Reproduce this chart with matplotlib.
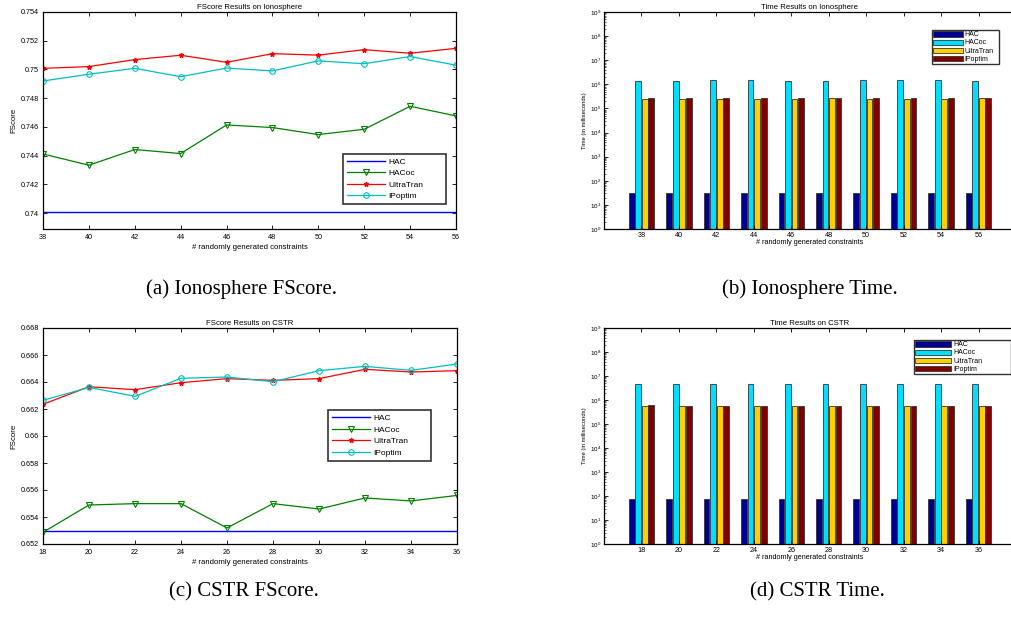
import matplotlib
matplotlib.use("Agg")
import matplotlib.pyplot as plt
import numpy as np
from matplotlib.ticker import LogLocator, FixedLocator, NullFormatter

plt.rcParams['font.family'] = ['Liberation Sans', 'DejaVu Sans']

# ---------------- data ----------------
series_names = ["HAC", "HACoc", "UltraTran", "IPoptim"]

iono_x = [38, 40, 42, 44, 46, 48, 50, 52, 54, 56]
iono_hac = [0.74005] * 10
iono_hacoc = [0.74412, 0.74334, 0.74443, 0.74415, 0.74614, 0.74596, 0.74547, 0.74584, 0.74744, 0.74677]
iono_ultra = [0.75008, 0.75020, 0.75069, 0.75099, 0.75050, 0.75110, 0.75100, 0.75138, 0.75113, 0.75147]
iono_ipopt = [0.74920, 0.74967, 0.75008, 0.74950, 0.75010, 0.74990, 0.75060, 0.75040, 0.75090, 0.75030]

cstr_x = [18, 20, 22, 24, 26, 28, 30, 32, 34, 36]
cstr_hac = [0.65300] * 10
cstr_hacoc = [0.65287, 0.65489, 0.65499, 0.65499, 0.65319, 0.65499, 0.65459, 0.65541, 0.65519, 0.65560]
cstr_ultra = [0.66235, 0.66365, 0.66343, 0.66395, 0.66425, 0.66412, 0.66425, 0.66494, 0.66474, 0.66484]
cstr_ipopt = [0.66264, 0.66360, 0.66294, 0.66427, 0.66437, 0.66402, 0.66484, 0.66516, 0.66486, 0.66533]

iono_t_hac = [30] * 10
iono_t_hacoc = [1.4e6, 1.4e6, 1.45e6, 1.5e6, 1.4e6, 1.4e6, 1.45e6, 1.45e6, 1.45e6, 1.4e6]
iono_t_ultra = [2.4e5, 2.4e5, 2.4e5, 2.4e5, 2.4e5, 2.6e5, 2.4e5, 2.5e5, 2.5e5, 2.6e5]
iono_t_ipopt = [2.6e5] * 10

cstr_t_hac = [77] * 10
cstr_t_hacoc = [4.8e6] * 10
cstr_t_ultra = [5.8e5] * 10
cstr_t_ipopt = [6.0e5] + [5.8e5] * 9

line_colors = ["#0000FF", "#008000", "#FF0000", "#00BFBF"]
bar_colors = ["#00008F", "#00DFFF", "#FFCF00", "#800000"]

fig = plt.figure(figsize=(10.12, 6.17), dpi=100)
W, H = 1012.0, 617.0


def ax_at(l, t, r, b):
    return fig.add_axes([l / W, 1 - b / H, (r - l) / W, (b - t) / H])


def legend_box(ax, l, t, r, b):
    """Convert pixel box to axes-fraction bbox."""
    pos = ax.get_position()
    x0 = (l / W - pos.x0) / pos.width
    x1 = (r / W - pos.x0) / pos.width
    y0 = ((1 - b / H) - pos.y0) / pos.height
    y1 = ((1 - t / H) - pos.y0) / pos.height
    return (x0, y0, x1 - x0, y1 - y0)


tick_fs = 5.2
lab_fs = 5.6


def style_axes(ax, pad=2):
    ax.tick_params(direction="in", top=True, right=True, labelsize=tick_fs,
                   length=3, width=0.6, pad=pad)
    for s in ax.spines.values():
        s.set_linewidth(0.9)


def line_panel(ax, x, hac, hacoc, ultra, ipopt, ylim, yticks, title, legpx):
    ax.plot(x, hac, color=line_colors[0], lw=1.0, label=series_names[0])
    ax.plot(x, hacoc, color=line_colors[1], lw=0.9, marker="v", ms=4.5,
            mfc="none", mec=line_colors[1], mew=0.8, label=series_names[1])
    ax.plot(x, ultra, color=line_colors[2], lw=0.9, marker="*", ms=3.5,
            mec=line_colors[2], label=series_names[2])
    ax.plot(x, ipopt, color=line_colors[3], lw=0.9, marker="o", ms=4,
            mfc="none", mec=line_colors[3], mew=0.8, label=series_names[3])
    ax.set_xlim(x[0], x[-1])
    ax.set_xticks(x)
    ax.set_ylim(*ylim)
    ax.set_yticks(yticks)
    ax.set_yticklabels([("%.3f" % v).rstrip("0") for v in yticks])
    style_axes(ax)
    ax.tick_params(axis="x", pad=3.8)
    ax.tick_params(axis="y", pad=3)
    ax.set_title(title, fontsize=lab_fs, pad=2.5)
    ax.set_xlabel("# randomly generated constraints", fontsize=lab_fs, labelpad=1.8)
    ax.set_ylabel("FScore", fontsize=lab_fs, labelpad=2)
    leg = ax.legend(loc="center left", bbox_to_anchor=legend_box(ax, *legpx),
                    mode="expand", fontsize=6, frameon=True, fancybox=False,
                    edgecolor="black", numpoints=1, handlelength=4.6,
                    borderpad=0.45, labelspacing=0.45, handletextpad=0.35,
                    borderaxespad=0)
    leg.get_frame().set_linewidth(1.2)


def bar_panel(ax, x, vals, title, ylabel, legpx, hlen):
    xs = np.array(x, dtype=float)
    width = 0.31
    offsets = [-0.525, -0.175, 0.175, 0.525]
    for i, v in enumerate(vals):
        ax.bar(xs + offsets[i], v, width=width, bottom=1, color=bar_colors[i],
               edgecolor="#333333", linewidth=0.6, label=series_names[i])
    ax.set_yscale("log")
    ax.set_ylim(1, 1e9)
    ax.set_xlim(x[0] - 2, x[-1] + 2)
    ax.set_xticks(x)
    ax.yaxis.set_major_locator(FixedLocator([10.0 ** k for k in range(10)]))
    ax.yaxis.set_minor_locator(LogLocator(base=10, subs=np.arange(2, 10), numticks=20))
    ax.yaxis.set_minor_formatter(NullFormatter())
    style_axes(ax)
    ax.tick_params(axis="y", which="major", labelsize=4.5)
    ax.tick_params(axis="y", which="minor", direction="in", length=1.5, width=0.4,
                   right=True)
    ax.set_title(title, fontsize=lab_fs, pad=2.5)
    ax.set_xlabel("# randomly generated constraints", fontsize=5.2, labelpad=0.5)
    ax.set_ylabel(ylabel, fontsize=4.2, labelpad=2)
    leg = ax.legend(loc="center left", bbox_to_anchor=legend_box(ax, *legpx),
                    mode="expand", fontsize=5, frameon=True, fancybox=False,
                    edgecolor="black", handlelength=hlen, handleheight=0.75,
                    borderpad=0.2, labelspacing=0.15, handletextpad=0.25,
                    borderaxespad=0)
    leg.get_frame().set_linewidth(1.0)


# top-left
ax1 = ax_at(43, 12, 456, 229)
line_panel(ax1, iono_x, iono_hac, iono_hacoc, iono_ultra, iono_ipopt,
           (0.7389, 0.754), np.arange(0.740, 0.7545, 0.002),
           "FScore Results on Ionosphere", (343, 151, 446, 207))

# bottom-left
ax3 = ax_at(43, 328, 457, 544)
line_panel(ax3, cstr_x, cstr_hac, cstr_hacoc, cstr_ultra, cstr_ipopt,
           (0.652, 0.668), np.arange(0.652, 0.6685, 0.002),
           "FScore Results on CSTR", (328, 407, 431, 464))

# top-right
ax2 = ax_at(604, 12, 1016, 229)
bar_panel(ax2, iono_x, [iono_t_hac, iono_t_hacoc, iono_t_ultra, iono_t_ipopt],
          "Time Results on Ionosphere", "Time (in milliseconds)",
          (932, 30, 999, 64), 4.2)

# bottom-right
ax4 = ax_at(604, 328, 1016, 544)
bar_panel(ax4, cstr_x, [cstr_t_hac, cstr_t_hacoc, cstr_t_ultra, cstr_t_ipopt],
          "Time Results on CSTR", "Time (in milliseconds)",
          (914, 338, 1011, 376), 5.2)

# captions
cap_kw = dict(fontsize=15, family=["Liberation Serif", "DejaVu Serif"],
              ha="center", va="center")
fig.text(242 / W, 1 - 289 / H, "(a) Ionosphere FScore.", **cap_kw)
fig.text(810 / W, 1 - 289 / H, "(b) Ionosphere Time.", **cap_kw)
fig.text(244 / W, 1 - 592 / H, "(c) CSTR FScore.", **cap_kw)
fig.text(817 / W, 1 - 592 / H, "(d) CSTR Time.", **cap_kw)

fig.savefig("out.png", dpi=100)
